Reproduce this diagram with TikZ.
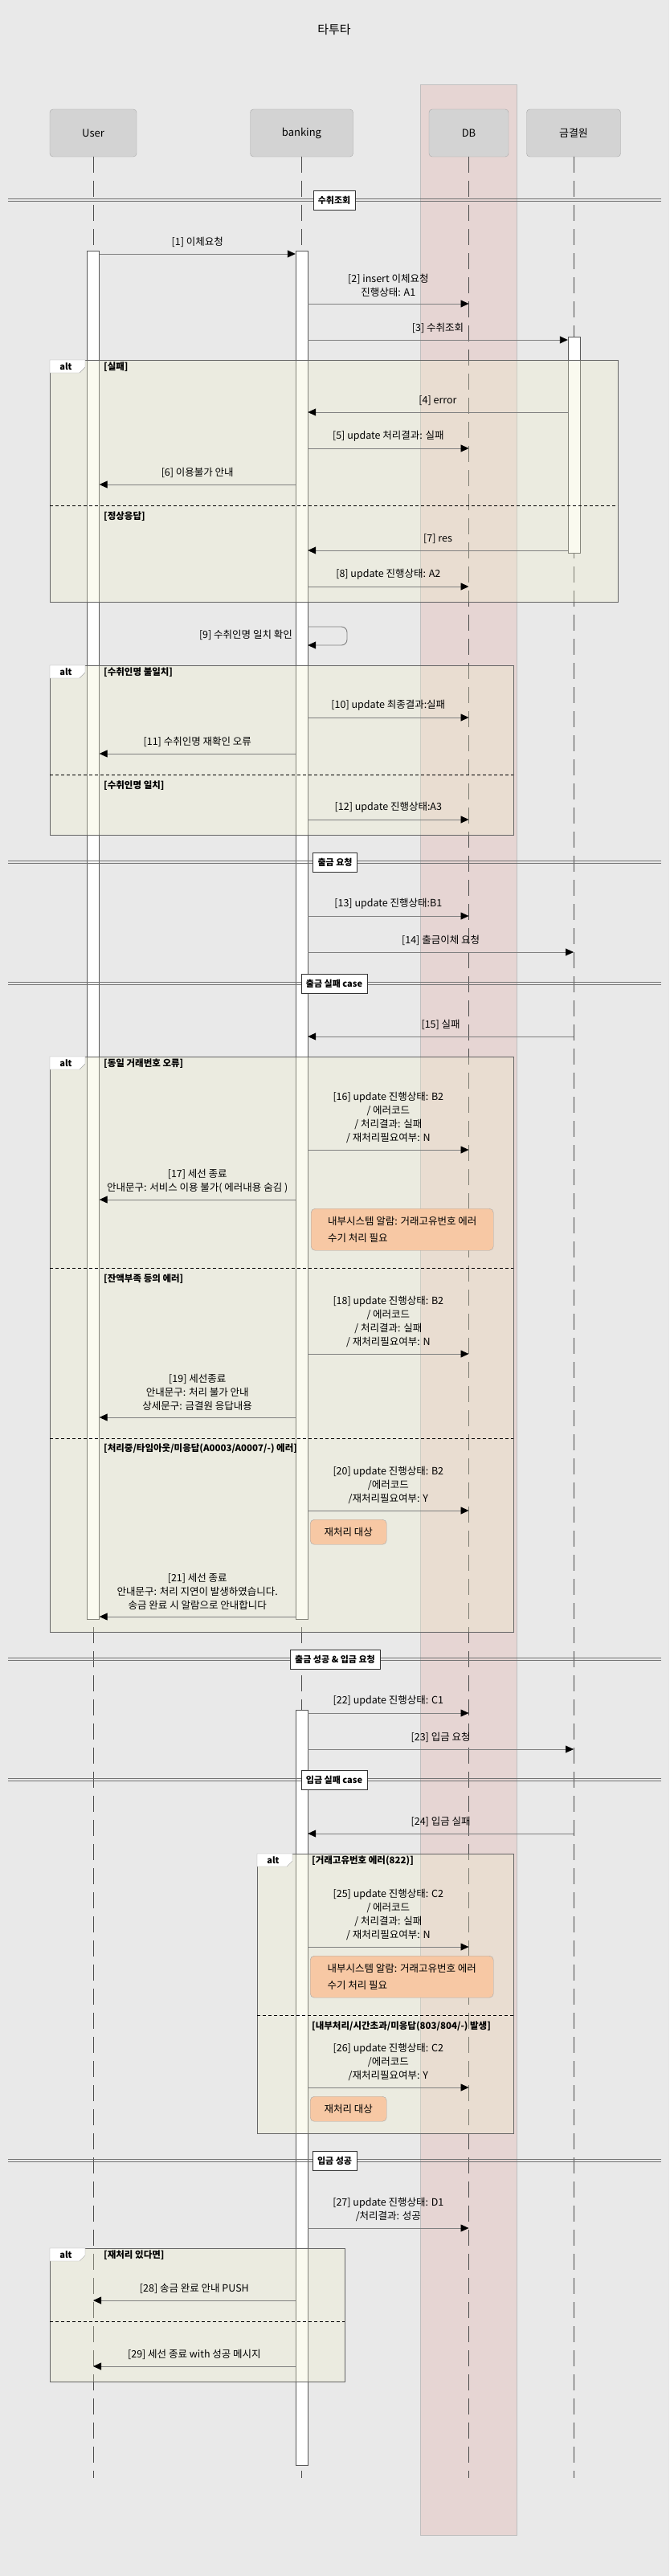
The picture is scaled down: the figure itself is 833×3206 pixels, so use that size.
\documentclass[tikz,border=0pt]{standalone}
\usepackage{fontspec}
\setmainfont{Noto Sans CJK KR}
\usetikzlibrary{arrows.meta,positioning,fit}

\definecolor{bgcol}{RGB}{233,233,233}
\definecolor{dbcol}{RGB}{230,213,211}
\definecolor{partcol}{RGB}{211,211,211}
\definecolor{notecol}{RGB}{247,200,164}
\definecolor{altcol}{RGB}{240,240,205}

\tikzset{
    part/.style={draw=gray!70, fill=partcol, rounded corners=4pt, minimum height=59pt, font=\fontsize{13}{15}\selectfont},
    life/.style={draw=black!70, dash pattern=on 20pt off 10pt, line width=0.7pt},
    act/.style={draw=black!65, fill=white, minimum width=15pt, inner sep=0pt},
    msg/.style={draw=gray, line width=0.9pt, -{Triangle[length=10pt,width=9pt,color=black]}},
    lbl/.style={above=8pt, inner sep=0pt, align=center, font=\fontsize{12.5}{17}\selectfont},
    grp/.style={draw=black!80, fill=white, font=\bfseries\fontsize{11}{13}\selectfont, minimum height=24pt, inner xsep=6pt, inner ysep=0pt},
    divline/.style={draw=black!55, line width=1.3pt},
    altframe/.style={draw=black!60, line width=0.9pt},
    guard/.style={anchor=west, inner sep=0pt, font=\bfseries\fontsize{11.5}{14}\selectfont},
    sepline/.style={dash pattern=on 4pt off 3pt, line width=0.8pt},
    note/.style={draw=gray!70, fill=notecol, rounded corners=5pt, anchor=north west, align=left, inner xsep=14pt, font=\fontsize{12.5}{21}\selectfont}
}

\begin{document}
\begin{tikzpicture}[x=1pt, y=-1pt]
    \useasboundingbox (0,0) rectangle (833,3206);
    \fill[bgcol] (0,0) rectangle (833,3206);

    % Title
    \node[font=\fontsize{15}{18}\selectfont] (title) at (416,37) {타투타};

    % DB box
    \draw[fill=dbcol, draw=black!25] (523,105) rectangle (643,3155);

    % Participants
    \node[part, minimum width=108pt] (user) at (116,165.5) {User};
    \node[part, minimum width=128pt] (bank) at (375.5,165.5) {banking};
    \node[part, minimum width=99pt] (db) at (583.5,165.5) {DB};
    \node[part, minimum width=117pt] (kfti) at (714,165.5) {금결원};

    \foreach \p in {user, bank, db, kfti}
        \draw[life] (\p.south) -- (\p.south |- 0,3084);

    % Activations
    \node[act, fit={(116,312) (116,2015)}] (uact) {};
    \node[act, fit={(375.5,312) (375.5,2015)}] (bact1) {};
    \node[act, fit={(375.5,2128) (375.5,3068)}] (bact2) {};
    \node[act, fit={(714.5,419) (714.5,688)}] (kact) {};

    % Sections
    \foreach \y/\n in {249/d1, 1073/d2, 1224/d3, 2065/d4, 2215/d5, 2689/d6} {
        \draw[divline] (10,\y-1.5) -- (823,\y-1.5);
        \draw[divline] (10,\y+1.5) -- (823,\y+1.5);
    }
    \node[grp] (d1) at (416,249) {수취조회};
    \node[grp] (d2) at (417,1073) {출금 요청};
    \node[grp] (d3) at (416,1224) {출금 실패 case};
    \node[grp] (d4) at (417,2065) {출금 성공 \& 입금 요청};
    \node[grp] (d5) at (416,2215) {입금 실패 case};
    \node[grp] (d6) at (416.5,2689) {입금 성공};

    % Alt frames
    \foreach \xa/\ya/\xb/\yb in {62/448/769/749, 62/828/639/1039, 62/1315/639/2031, 320/2307/639/2655, 62/2798/429/2964} {
        \fill[altcol, fill opacity=0.3] (\xa,\ya) rectangle (\xb,\yb);
        \draw[altframe] (\xa,\ya) rectangle (\xb,\yb);
        \draw[fill=white, draw=black!35] (\xa,\ya) -- ++(44,0) -- ++(0,9) -- ++(-7,7) -- ++(-37,0) -- cycle;
        \node[font=\bfseries\fontsize{11}{13}\selectfont, name=alt\ya] at (\xa+20,\ya+8.5) {alt};
    }
    \draw[sepline] (62,629) -- (769,629);
    \draw[sepline] (62,964) -- (639,964);
    \draw[sepline] (62,1578) -- (639,1578);
    \draw[sepline] (62,1790) -- (639,1790);
    \draw[sepline] (320,2508) -- (639,2508);
    \draw[sepline] (62,2889) -- (429,2889);

    \node[guard] (g1) at (129,457) {[실패]};
    \node[guard] (g2) at (129,643) {[정상응답]};
    \node[guard] (g3) at (129,837) {[수취인명 불일치]};
    \node[guard] (g4) at (129,978) {[수취인명 일치]};
    \node[guard] (g5) at (129,1324) {[동일 거래번호 오류]};
    \node[guard] (g6) at (129,1592) {[잔액부족 등의 에러]};
    \node[guard] (g7) at (129,1803) {[처리중/타임아웃/미응답(A0003/A0007/-) 에러]};
    \node[guard] (g8) at (388,2316) {[거래고유번호 에러(822)]};
    \node[guard] (g9) at (388,2522) {[내부처리/시간초과/미응답(803/804/-) 발생]};
    \node[guard] (g10) at (129,2807) {[재처리 있다면]};

    % Messages
    \draw[msg] (uact.east |- 0,316) -- node[lbl] {[1] 이체요청} (bact1.west |- 0,316);
    \draw[msg] (bact1.east |- 0,378) -- node[lbl] {[2] insert 이체요청\\진행상태: A1} (db |- 0,378);
    \draw[msg] (bact1.east |- 0,423) -- node[lbl] {[3] 수취조회} (kact.west |- 0,423);
    \draw[msg] (kact.west |- 0,513) -- node[lbl] {[4] error} (bact1.east |- 0,513);
    \draw[msg] (bact1.east |- 0,558) -- node[lbl] {[5] update 처리결과: 실패} (db |- 0,558);
    \draw[msg] (bact1.west |- 0,603) -- node[lbl] {[6] 이용불가 안내} (uact.east |- 0,603);
    \draw[msg] (kact.west |- 0,685) -- node[lbl] {[7] res} (bact1.east |- 0,685);
    \draw[msg] (bact1.east |- 0,730) -- node[lbl] {[8] update 진행상태: A2} (db |- 0,730);
    \draw[msg, rounded corners=7pt] (bact1.east |- 0,780) -- (432,780) -- (432,803) -- (bact1.east |- 0,803);
    \node[anchor=east, inner sep=0pt, font=\fontsize{12.5}{17}\selectfont] (m9) at (364,790) {[9] 수취인명 일치 확인};
    \draw[msg] (bact1.east |- 0,893) -- node[lbl] {[10] update 최종결과:실패} (db |- 0,893);
    \draw[msg] (bact1.west |- 0,938) -- node[lbl] {[11] 수취인명 재확인 오류} (uact.east |- 0,938);
    \draw[msg] (bact1.east |- 0,1020) -- node[lbl] {[12] update 진행상태:A3} (db |- 0,1020);
    \draw[msg] (bact1.east |- 0,1140) -- node[lbl] {[13] update 진행상태:B1} (db |- 0,1140);
    \draw[msg] (bact1.east |- 0,1185) -- node[lbl] {[14] 출금이체 요청} (kfti |- 0,1185);
    \draw[msg] (kfti |- 0,1290) -- node[lbl] {[15] 실패} (bact1.east |- 0,1290);
    \draw[msg] (bact1.east |- 0,1431) -- node[lbl] {[16] update 진행상태: B2\\/ 에러코드\\/ 처리결과: 실패\\/ 재처리필요여부: N} (db |- 0,1431);
    \draw[msg] (bact1.west |- 0,1493) -- node[lbl] {[17] 세선 종료\\안내문구: 서비스 이용 불가( 에러내용 숨김 )} (uact.east |- 0,1493);
    \draw[msg] (bact1.east |- 0,1685) -- node[lbl] {[18] update 진행상태: B2\\/ 에러코드\\/ 처리결과: 실패\\/ 재처리필요여부: N} (db |- 0,1685);
    \draw[msg] (bact1.west |- 0,1764) -- node[lbl] {[19] 세선종료\\안내문구: 처리 불가 안내\\상세문구: 금결원 응답내용} (uact.east |- 0,1764);
    \draw[msg] (bact1.east |- 0,1880) -- node[lbl] {[20] update 진행상태: B2\\/에러코드\\/재처리필요여부: Y} (db |- 0,1880);
    \draw[msg] (bact1.west |- 0,2012) -- node[lbl] {[21] 세선 종료\\안내문구: 처리 지연이 발생하였습니다.\\송금 완료 시 알람으로 안내합니다} (uact.east |- 0,2012);
    \draw[msg] (bact2.east |- 0,2132) -- node[lbl] {[22] update 진행상태: C1} (db |- 0,2132);
    \draw[msg] (bact2.east |- 0,2177) -- node[lbl] {[23] 입금 요청} (kfti |- 0,2177);
    \draw[msg] (kfti |- 0,2282) -- node[lbl] {[24] 입금 실패} (bact2.east |- 0,2282);
    \draw[msg] (bact2.east |- 0,2423) -- node[lbl] {[25] update 진행상태: C2\\/ 에러코드\\/ 처리결과: 실패\\/ 재처리필요여부: N} (db |- 0,2423);
    \draw[msg] (bact2.east |- 0,2598) -- node[lbl] {[26] update 진행상태: C2\\/에러코드\\/재처리필요여부: Y} (db |- 0,2598);
    \draw[msg] (bact2.east |- 0,2773) -- node[lbl] {[27] update 진행상태: D1\\/처리결과: 성공} (db |- 0,2773);
    \draw[msg] (bact2.west |- 0,2863) -- node[lbl] {[28] 송금 완료 안내 PUSH} (user |- 0,2863);
    \draw[msg] (bact2.west |- 0,2945) -- node[lbl] {[29] 세선 종료 with 성공 메시지} (user |- 0,2945);

    % Notes
    \node[note, minimum width=227pt, minimum height=52pt] (n1) at (387,1504) {내부시스템 알람: 거래고유번호 에러\\수기 처리 필요};
    \node[note, minimum width=95pt, minimum height=31pt] (n2) at (386,1891) {재처리 대상};
    \node[note, minimum width=228pt, minimum height=52pt] (n3) at (386,2434) {내부시스템 알람: 거래고유번호 에러\\수기 처리 필요};
    \node[note, minimum width=95pt, minimum height=31pt] (n4) at (386,2609) {재처리 대상};
\end{tikzpicture}
\end{document}
